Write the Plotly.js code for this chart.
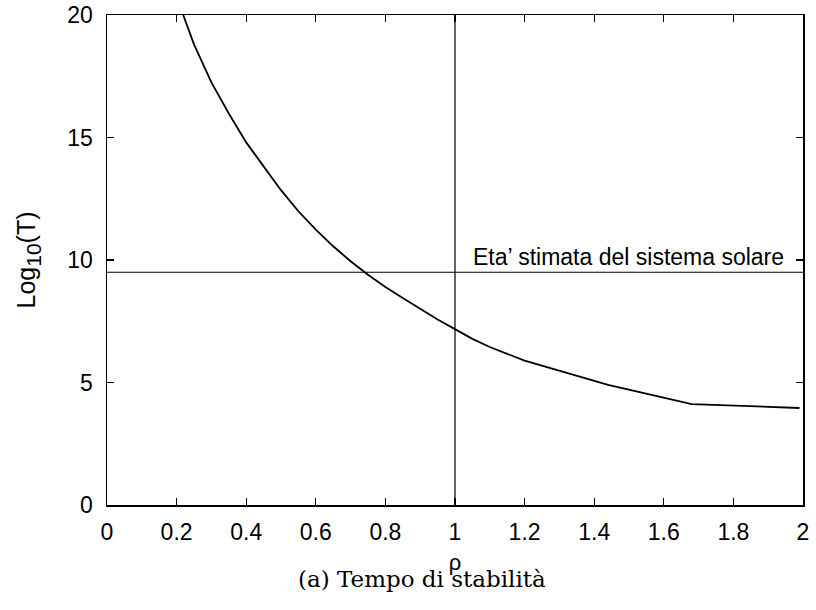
<!DOCTYPE html>
<html><head><meta charset="utf-8">
<script src="https://cdn.plot.ly/plotly-3.0.1.min.js"></script>
<style>html,body{margin:0;padding:0;background:#fff}#plot{width:816px;height:610px}</style>
</head><body><div id="plot"></div>
<script>
var rho = [0.219, 0.25, 0.3, 0.35, 0.4, 0.45, 0.5, 0.55, 0.6, 0.65, 0.7, 0.75, 0.8, 0.85, 0.9, 0.95, 1.0, 1.05, 1.1, 1.15, 1.2, 1.44, 1.68, 1.99];
var logT = [20, 18.8, 17.25, 15.98, 14.8, 13.8, 12.85, 11.99, 11.24, 10.56, 9.95, 9.4, 8.9, 8.45, 8.0, 7.57, 7.18, 6.78, 6.45, 6.16, 5.89, 4.9, 4.12, 3.96];
var ageX = [0, 2];
var ageY = [9.5, 9.5];
var vertX = [1, 1];
var vertY = [0, 20];
var xTicks = [0, 0.2, 0.4, 0.6, 0.8, 1, 1.2, 1.4, 1.6, 1.8, 2];
var xTickText = ['0', '0.2', '0.4', '0.6', '0.8', '1', '1.2', '1.4', '1.6', '1.8', '2'];
var yTicks = [0, 5, 10, 15, 20];
var ageLabel = "Eta’ stimata del sistema solare";
var caption = "(a) Tempo di stabilità";

var SANS = 'Liberation Sans, Arial, sans-serif';
var lineStyle = {color: '#000', width: 1.2};
var data = [
  {x: rho, y: logT, mode: 'lines', line: {color: '#000', width: 1.8, shape: 'linear'}, hoverinfo: 'none'},
  {x: ageX, y: ageY, mode: 'lines', line: lineStyle, hoverinfo: 'none'},
  {x: vertX, y: vertY, mode: 'lines', line: lineStyle, hoverinfo: 'none'}
];
var axisCommon = {
  showgrid: false, zeroline: false, showline: true, linecolor: '#000', linewidth: 1.5,
  mirror: 'ticks', ticks: 'inside', ticklen: 7, tickwidth: 1.4, tickcolor: '#000',
  tickfont: {family: SANS, size: 23, color: '#000'}
};
var layout = {
  width: 816, height: 610,
  margin: {l: 107, r: 13, t: 15, b: 105},
  paper_bgcolor: '#fff', plot_bgcolor: '#fff',
  showlegend: false,
  xaxis: Object.assign({}, axisCommon, {
    range: [0, 2], tickvals: xTicks, ticktext: xTickText, ticklabelstandoff: 6,
    title: {text: 'ρ', font: {family: SANS, size: 22, color: '#000'}, standoff: 10}
  }),
  yaxis: Object.assign({}, axisCommon, {
    range: [0, 20], tickvals: yTicks, ticklabelstandoff: 8,
    title: {text: 'Log<sub><span style="font-size:21px">10</span></sub>(T)', font: {family: SANS, size: 25, color: '#000'}, standoff: 24}
  }),
  annotations: [
    {xref: 'x', yref: 'y', x: 1.95, y: 9.5, xanchor: 'right', yanchor: 'bottom', yshift: 0,
     text: ageLabel, showarrow: false, font: {family: SANS, size: 23, color: '#000'}},
    {xref: 'paper', yref: 'paper', x: 0.453, y: -0.15, xanchor: 'center', yanchor: 'middle',
     text: caption, showarrow: false, font: {family: 'DejaVu Serif, Liberation Serif, serif', size: 23, color: '#000'}}
  ]
};
Plotly.newPlot('plot', data, layout, {displayModeBar: false, staticPlot: true});
</script></body></html>
